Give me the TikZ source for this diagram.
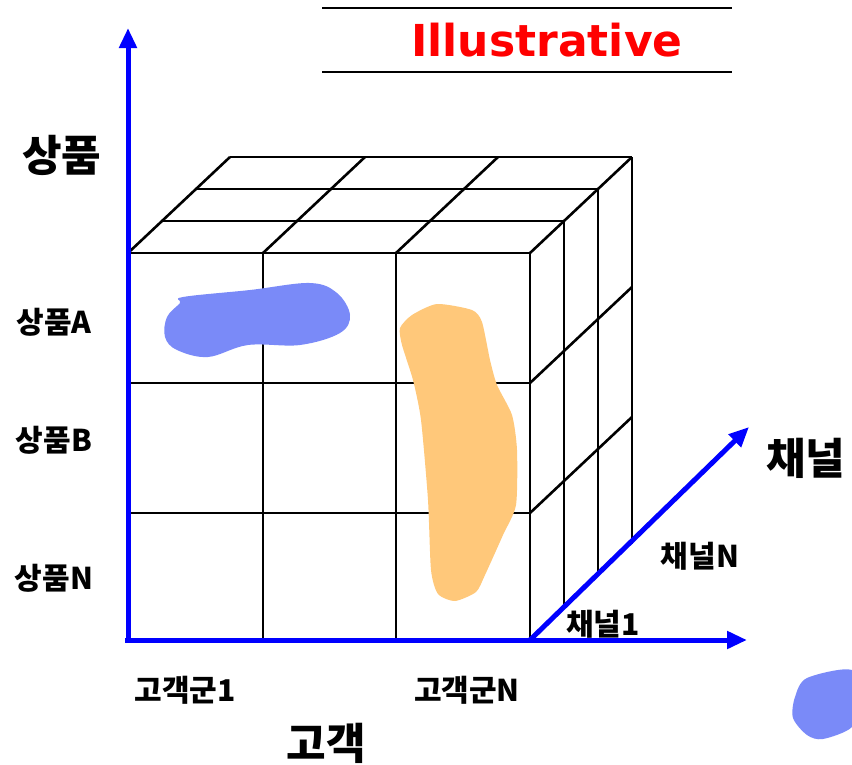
\documentclass[tikz,border=0pt]{standalone}
\usepackage{fontspec}
\newfontfamily\kr{Noto Sans CJK KR}
\newfontfamily\dv{DejaVu Sans}
\usetikzlibrary{arrows.meta}
\definecolor{axblue}{RGB}{0,0,255}
\definecolor{blobblue}{RGB}{122,138,248}
\definecolor{bloborange}{RGB}{255,200,122}
\definecolor{illred}{RGB}{255,0,0}
\tikzset{
  grid line/.style={black, line width=2.6pt},
  axis line/.style={axblue, line width=5pt, -{Triangle[length=20pt,width=17pt]}},
  big label/.style={font=\kr\bfseries\fontsize{43}{46}\selectfont, inner sep=0pt},
  small label/.style={font=\kr\bfseries\fontsize{30}{33}\selectfont, inner sep=0pt},
}
\begin{document}
\begin{tikzpicture}[x=1pt,y=-1pt]
\useasboundingbox (0,0) rectangle (852,764);
% header
\draw[line width=2.6pt] (322,8) -- (732,8);
\draw[line width=2.6pt] (322,72) -- (732,72);
\node[font=\dv\bfseries\fontsize{44}{46}\selectfont, text=illred, inner sep=0pt] (ill) at (547,40) {Illustrative};
% named corners
\coordinate (O) at (128,640);
\coordinate (C) at (530,640);
% front face
\foreach \x in {263,396,530} \draw[grid line] (\x,253) -- (\x,640);
\foreach \y in {253,383,513} \draw[grid line] (128,\y) -- (530,\y);
% top face
\foreach \k in {1,2,3} \draw[grid line] ({128+34*\k},{253-32*\k}) -- ({530+34*\k},{253-32*\k});
\foreach \x in {128,263,396,530} \draw[grid line] (\x,253) -- ({\x+102},157);
% right face
\foreach \k in {1,2,3} \draw[grid line] ({530+34*\k},{253-32*\k}) -- ({530+34*\k},{640-32*\k});
\foreach \y in {383,513} \draw[grid line] (530,\y) -- (632,{\y-96});
% blobs
\fill[blobblue] plot[smooth cycle, tension=0.6] coordinates {(183,297) (250,290) (310,283) (337,293) (350,315) (340,333) (300,345) (248,345) (208,357) (177,350) (165,337) (167,317) (180,303)};
\fill[bloborange] plot[smooth cycle, tension=0.4] coordinates {(400,328) (412,315) (437,304) (472,310) (482,322) (490,360) (497,385) (512,415) (517,450) (516,505) (503,535) (485,575) (476,592) (455,601) (438,594) (431,570) (428,500) (421,420) (413,380) (402,345)};
\fill[blobblue] plot[smooth cycle, tension=0.5] coordinates {(807,678) (852,670) (860,700) (852,727) (823,739) (807,735) (793,718) (795,697)};
% axes
\draw[axis line] (128,643) -- (128,28);
\draw[axis line] (125,640) -- (747,640);
\draw[axis line] (C) -- (749,427);
% labels
\node[big label] (prod) at (62,155) {상품};
\node[small label] (pa) at (54,322) {상품A};
\node[small label] (pb) at (54,440) {상품B};
\node[small label] (pn) at (54,578) {상품N};
\node[small label] (c1) at (185,690) {고객군1};
\node[small label] (cn) at (467,690) {고객군N};
\node[big label] (cust) at (326,743) {고객};
\node[big label, anchor=west] (chan) at (766,458) {채널};
\node[small label] (chn) at (700,556) {채널N};
\node[small label] (ch1) at (603,624) {채널1};
\end{tikzpicture}
\end{document}
